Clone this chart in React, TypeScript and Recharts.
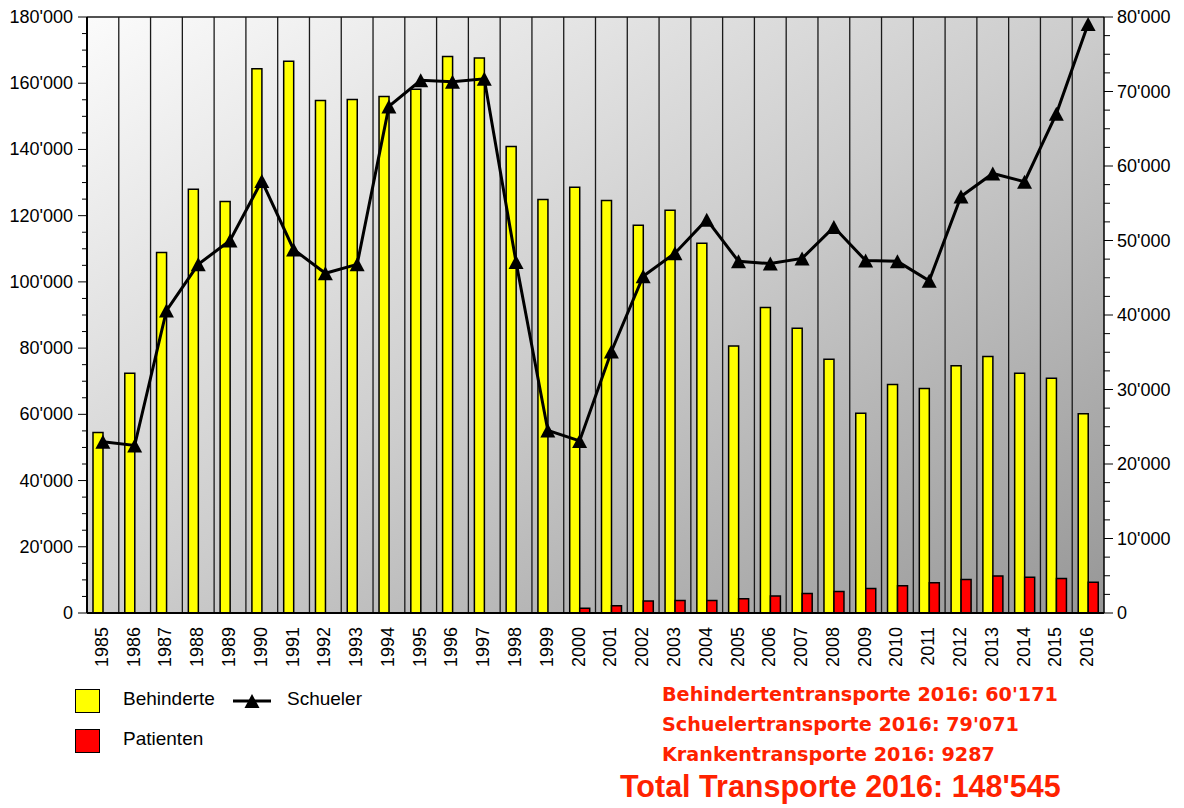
import { Bar, CartesianGrid, ComposedChart, Legend, Line, XAxis, YAxis } from "recharts";

const years = [
  "1985", "1986", "1987", "1988", "1989", "1990", "1991", "1992", "1993", "1994", "1995",
  "1996", "1997", "1998", "1999", "2000", "2001", "2002", "2003", "2004", "2005", "2006",
  "2007", "2008", "2009", "2010", "2011", "2012", "2013", "2014", "2015", "2016",
];

const behinderte = [
  54500, 72400, 108900, 128000, 124300, 164400, 166600, 154800, 155100, 156000, 158200,
  168100, 167600, 140900, 124900, 128600, 124600, 117100, 121600, 111700, 80600, 92300,
  86000, 76600, 60300, 69000, 67800, 74700, 77500, 72400, 70900, 60171,
];

const patienten = [
  null, null, null, null, null, null, null, null, null, null, null,
  null, null, null, null, 1400, 2200, 3600, 3800, 3800, 4300, 5100,
  5900, 6500, 7400, 8200, 9100, 10100, 11200, 10800, 10400, 9287,
];

const schueler = [
  23000, 22500, 40600, 46800, 50000, 58000, 48800, 45600, 46800, 68000, 71500,
  71300, 71700, 47100, 24500, 23100, 35100, 45200, 48300, 52800, 47200, 46900,
  47600, 51800, 47300, 47200, 44600, 55900, 59000, 57900, 67000, 79071,
];

const leftTicks = [
  0, 5000, 10000, 15000, 20000, 25000, 30000, 35000, 40000, 45000, 50000, 55000, 60000,
  65000, 70000, 75000, 80000, 85000, 90000, 95000, 100000, 105000, 110000, 115000, 120000,
  125000, 130000, 135000, 140000, 145000, 150000, 155000, 160000, 165000, 170000, 175000, 180000,
];
const rightTicks = [
  0, 2500, 5000, 7500, 10000, 12500, 15000, 17500, 20000, 22500, 25000, 27500, 30000,
  32500, 35000, 37500, 40000, 42500, 45000, 47500, 50000, 52500, 55000, 57500, 60000,
  62500, 65000, 67500, 70000, 72500, 75000, 77500, 80000,
];

const summary = [
  "Behindertentransporte 2016: 60'171",
  "Schuelertransporte 2016: 79'071",
  "Krankentransporte 2016: 9287",
];
const totalText = "Total Transporte 2016: 148'545";

const data = years.map((year, i) => ({
  year,
  behinderte: behinderte[i],
  patienten: patienten[i],
  schueler: schueler[i],
}));

const FONT = '"Liberation Sans", Arial, Helvetica, sans-serif';

const fmt = (v: number) => String(v).replace(/\B(?=(\d{3})+(?!\d))/g, "'");

function LeftTick({ x, y, payload }: any) {
  const major = payload.value % 20000 === 0;
  return (
    <g>
      <line x1={major ? x + 5 : x + 9} x2={x + 14} y1={y} y2={y} stroke="#000" strokeWidth={1} />
      {major && (
        <text x={x} y={y} textAnchor="end" dominantBaseline="central" fontSize={18} fontFamily={FONT} fill="#000">
          {fmt(payload.value)}
        </text>
      )}
    </g>
  );
}

function RightTick({ x, y, payload }: any) {
  const major = payload.value % 10000 === 0;
  return (
    <g>
      <line x1={x - 13} x2={major ? x - 4 : x - 7} y1={y} y2={y} stroke="#000" strokeWidth={1} />
      {major && (
        <text x={x} y={y} textAnchor="start" dominantBaseline="central" fontSize={18} fontFamily={FONT} fill="#000">
          {fmt(payload.value)}
        </text>
      )}
    </g>
  );
}

function YearTick({ x, y, payload }: any) {
  return (
    <text
      x={x - 1}
      y={y + 6}
      transform={`rotate(-90 ${x - 1} ${y + 6})`}
      textAnchor="end"
      dominantBaseline="central"
      fontSize={18}
      fontFamily={FONT}
      fill="#000"
    >
      {payload.value}
    </text>
  );
}

function Triangle({ cx, cy, index }: any) {
  if (cx == null || cy == null) return <g key={index} />;
  return <path key={index} d={`M${cx},${cy - 7} L${cx + 7.5},${cy + 7} L${cx - 7.5},${cy + 7} Z`} fill="#000" />;
}

function renderLegend() {
  const label = { fontFamily: FONT, fontSize: 19, color: "#000", position: "absolute" as const };
  return (
    <div style={{ position: "relative", width: 330, height: 80 }}>
      <div style={{ position: "absolute", left: 5, top: 6, width: 23, height: 22, background: "#ffff00", border: "1.5px solid #000" }} />
      <div style={{ ...label, left: 53, top: 5 }}>Behinderte</div>
      <svg style={{ position: "absolute", left: 163, top: 8 }} width={40} height={20}>
        <line x1={0} x2={38} y1={10} y2={10} stroke="#000" strokeWidth={3} />
        <path d="M19,3 L26.5,17 L11.5,17 Z" fill="#000" />
      </svg>
      <div style={{ ...label, left: 217, top: 5 }}>Schueler</div>
      <div style={{ position: "absolute", left: 5, top: 46, width: 23, height: 22, background: "#ff0000", border: "1.5px solid #000" }} />
      <div style={{ ...label, left: 53, top: 45 }}>Patienten</div>
    </div>
  );
}

export default function App() {
  const red = { position: "absolute" as const, color: "#ff2200", fontWeight: 700, whiteSpace: "nowrap" as const };
  return (
    <div style={{ position: "absolute", left: 0, top: 0, width: 1184, height: 808, background: "#fff" }}>
      <ComposedChart
        width={1184}
        height={808}
        data={data}
        margin={{ top: 17, right: 0, bottom: 135, left: 0 }}
        barGap={0}
        barSize={10}
      >
        <defs>
          <linearGradient id="bg" x1="0" y1="0" x2="1" y2="1">
            <stop offset="0%" stopColor="#fbfbfb" />
            <stop offset="50%" stopColor="#cdcdcd" />
            <stop offset="100%" stopColor="#979797" />
          </linearGradient>
        </defs>
        <CartesianGrid
          fill="url(#bg)"
          fillOpacity={1}
          stroke="#1a1a1a"
          strokeWidth={1.3}
          horizontalCoordinatesGenerator={({ offset }: any) => [offset.top]}
          verticalCoordinatesGenerator={({ offset }: any) =>
            years.slice(1).map((_, i) => offset.left + ((i + 1) * offset.width) / years.length)
          }
        />
        <XAxis
          dataKey="year"
          height={60}
          interval={0}
          tickLine={false}
          tick={<YearTick />}
          axisLine={{ stroke: "#000", strokeWidth: 2 }}
        />
        <YAxis
          yAxisId="left"
          width={87}
          domain={[0, 180000]}
          ticks={leftTicks}
          interval={0}
          tickSize={9}
          tickMargin={5}
          tickLine={false}
          tick={<LeftTick />}
          axisLine={{ stroke: "#000", strokeWidth: 2 }}
        />
        <YAxis
          yAxisId="right"
          orientation="right"
          width={80}
          domain={[0, 80000]}
          ticks={rightTicks}
          interval={0}
          tickSize={9}
          tickMargin={4}
          tickLine={false}
          tick={<RightTick />}
          axisLine={{ stroke: "#000", strokeWidth: 1.5 }}
        />
        <Bar yAxisId="left" dataKey="behinderte" name="Behinderte" fill="#ffff00" stroke="#000" strokeWidth={1.5} isAnimationActive={false} />
        <Bar yAxisId="left" dataKey="patienten" name="Patienten" fill="#ff0000" stroke="#000" strokeWidth={1.5} isAnimationActive={false} />
        <Line
          yAxisId="right"
          dataKey="schueler"
          name="Schueler"
          type="linear"
          stroke="#000"
          strokeWidth={3}
          dot={(p: any) => <Triangle key={p.index} {...p} />}
          activeDot={false}
          isAnimationActive={false}
        />
        <Legend
          content={renderLegend}
          layout="horizontal"
          verticalAlign="middle"
          wrapperStyle={{ left: 70, top: 683, width: 330, height: 80 }}
        />
      </ComposedChart>
      {summary.map((s, i) => (
        <div
          key={s}
          style={{ ...red, left: 662, top: 683 + i * 30, fontSize: 19.2, fontFamily: '"DejaVu Sans", sans-serif' }}
        >
          {s}
        </div>
      ))}
      <div style={{ ...red, left: 620, top: 769, fontSize: 30.5, fontFamily: FONT }}>{totalText}</div>
    </div>
  );
}
